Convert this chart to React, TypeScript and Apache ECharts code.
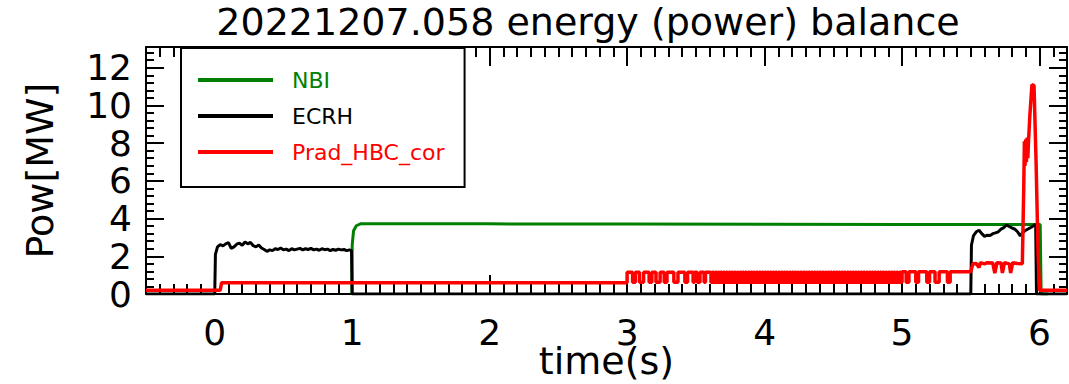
import React, { useEffect, useRef } from "react";
import * as echarts from "echarts";

const FONT = '"DejaVu Sans", "Liberation Sans", sans-serif';

const TITLE = "20221207.058 energy (power) balance";
const X_NAME = "time(s)";
const Y_NAME = "Pow[MW]";
const SERIES_NAMES = ["NBI", "ECRH", "Prad_HBC_cor"];
const SERIES_COLORS = ["#008000", "#000000", "#ff0000"];

const X_MIN = -0.5;
const X_MAX = 6.2;
const Y_MIN = 0;
const Y_MAX = 13.1;

// Labelled (major) tick values
const X_MAJOR_TICKS = [0, 1, 2, 3, 4, 5, 6];
const Y_MAJOR_TICKS = [0, 2, 4, 6, 8, 10, 12];

// NBI power [t, MW]
const NBI = [
  [0.998, 0], [1.0, 2.6], [1.01, 3.35], [1.03, 3.62], [1.06, 3.72],
  [2.0, 3.72], [3.0, 3.71], [4.0, 3.7], [5.0, 3.69], [5.9, 3.68],
  [6.005, 3.68], [6.012, 0], [6.06, 0],
];

// ECRH power [t, MW]
const ECRH = [
  [-0.5, 0], [0.0, 0], [0.005, 2.1], [0.02, 2.5], [0.04, 2.62], [0.06, 2.55],
  [0.08, 2.66], [0.1, 2.72], [0.12, 2.42], [0.14, 2.5], [0.16, 2.64], [0.18, 2.7],
  [0.2, 2.58], [0.22, 2.76], [0.24, 2.66], [0.26, 2.74], [0.28, 2.56], [0.3, 2.5],
  [0.32, 2.6], [0.34, 2.44], [0.36, 2.36], [0.38, 2.26], [0.4, 2.34], [0.42, 2.3],
  [0.44, 2.4], [0.46, 2.36], [0.48, 2.44], [0.5, 2.34], [0.52, 2.38], [0.54, 2.3],
  [0.56, 2.4], [0.58, 2.34], [0.6, 2.38], [0.62, 2.42], [0.64, 2.34], [0.66, 2.4],
  [0.68, 2.36], [0.7, 2.42], [0.72, 2.34], [0.74, 2.38], [0.76, 2.32], [0.78, 2.4],
  [0.8, 2.35], [0.82, 2.38], [0.84, 2.3], [0.86, 2.36], [0.88, 2.32], [0.9, 2.38],
  [0.92, 2.34], [0.94, 2.36], [0.96, 2.3], [0.98, 2.34], [0.995, 2.3], [1.0, 0],
  [5.5, 0], [5.505, 2.6], [5.52, 3.1], [5.54, 3.3], [5.56, 3.38], [5.58, 3.2],
  [5.6, 3.06], [5.62, 3.12], [5.64, 3.1], [5.66, 3.2], [5.68, 3.24], [5.7, 3.3],
  [5.72, 3.44], [5.74, 3.52], [5.76, 3.66], [5.78, 3.58], [5.8, 3.5], [5.82, 3.44],
  [5.84, 3.3], [5.86, 3.08], [5.88, 3.28], [5.9, 3.38], [5.92, 3.46], [5.94, 3.54],
  [5.96, 3.64], [5.972, 3.7], [5.978, 0], [6.2, 0],
];

// Radiated power before the noisy stretch [t, MW]
const PRAD_HEAD = [
  [-0.5, 0.2], [0.04, 0.2], [0.05, 0.6], [1.0, 0.6], [2.0, 0.6], [3.0, 0.6],
];

// Radiated power, digitiser-stepped stretch: one value per 10 ms from 3.00 s
const PRAD_STEP_START = 3.0;
const PRAD_STEP_DT = 0.01;
const PRAD_STEPS = [
  // 3.0 - 3.6
  1.16, 1.16, 1.16, 1.16, 0.62, 0.62, 1.16, 1.16, 1.16, 0.62, 0.62, 0.62, 1.16, 1.16, 1.16, 1.16, 0.62, 0.62, 1.16, 1.16,
  1.16, 0.62, 0.62, 0.62, 1.16, 1.16, 1.16, 0.62, 0.62, 1.16, 1.16, 1.16, 1.16, 1.16, 0.62, 0.62, 0.62, 1.16, 1.16, 1.16,
  1.16, 1.16, 0.62, 0.62, 1.16, 1.16, 1.16, 1.16, 0.62, 1.16, 1.16, 0.62, 0.62, 1.16, 1.16, 1.16, 0.62, 1.16, 1.16, 1.16,
  // 3.6 - 5.0
  1.16, 0.62, 1.16, 0.62, 1.16, 0.62, 1.16, 0.62, 1.16, 0.62, 1.16, 0.62, 1.16, 0.62, 1.16, 0.62, 1.16, 0.62, 1.16, 0.62,
  1.16, 0.62, 1.16, 0.62, 1.16, 0.62, 1.16, 0.62, 1.16, 0.62, 1.16, 0.62, 1.16, 0.62, 1.16, 0.62, 1.16, 0.62, 1.16, 0.62,
  1.16, 0.62, 1.16, 0.62, 1.16, 0.62, 1.16, 0.62, 1.16, 0.62, 1.16, 0.62, 1.16, 0.62, 1.16, 0.62, 1.16, 0.62, 1.16, 0.62,
  1.16, 0.62, 1.16, 0.62, 1.16, 0.62, 1.16, 0.62, 1.16, 0.62, 1.16, 0.62, 1.16, 0.62, 1.16, 0.62, 1.16, 0.62, 1.16, 0.62,
  1.16, 0.62, 1.16, 0.62, 1.16, 0.62, 1.16, 0.62, 1.16, 0.62, 1.16, 0.62, 1.16, 0.62, 1.16, 0.62, 1.16, 0.62, 1.16, 0.62,
  1.16, 0.62, 1.16, 0.62, 1.16, 0.62, 1.16, 0.62, 1.16, 0.62, 1.16, 0.62, 1.16, 0.62, 1.16, 0.62, 1.16, 0.62, 1.16, 0.62,
  1.16, 0.62, 1.16, 0.62, 1.16, 0.62, 1.16, 0.62, 1.16, 0.62, 1.16, 0.62, 1.16, 0.62, 1.16, 0.62, 1.16, 0.62, 1.16, 0.62,
  // 5.0 - 5.5
  1.18, 1.18, 1.18, 0.62, 0.62, 1.18, 1.18, 1.18, 1.18, 1.18, 0.62, 0.62, 1.18, 1.18, 1.18, 1.18, 1.18, 1.18, 0.62, 0.62,
  1.18, 1.18, 1.18, 1.18, 0.62, 0.62, 0.62, 1.18, 1.18, 1.18, 1.18, 1.18, 1.18, 0.62, 0.62, 1.18, 1.18, 1.18, 1.18, 1.18,
  1.18, 1.18, 1.18, 1.18, 1.18, 1.18, 1.18, 1.18, 1.18, 1.18,
];

// Radiated power after the heating step and the final spike [t, MW]
const PRAD_TAIL = [
  [5.5, 1.18], [5.515, 1.6], [5.54, 1.62], [5.56, 1.4], [5.57, 1.66], [5.6, 1.6],
  [5.62, 1.66], [5.66, 1.64], [5.675, 1.1], [5.69, 1.66], [5.72, 1.64], [5.73, 1.12],
  [5.745, 1.66], [5.78, 1.6], [5.79, 1.12], [5.805, 1.66], [5.84, 1.62], [5.875, 1.6],
  [5.885, 5.5], [5.89, 8.1], [5.895, 6.8], [5.9, 8.2], [5.905, 7.0], [5.91, 8.3],
  [5.915, 7.2], [5.92, 8.1], [5.93, 9.5], [5.945, 11.1], [5.96, 11.05], [5.975, 7.0],
  [5.99, 2.0], [6.0, 0.2], [6.2, 0.2],
];

function buildPrad(): number[][] {
  const pts: number[][] = PRAD_HEAD.map((p) => [p[0], p[1]]);
  PRAD_STEPS.forEach((v, i) => {
    const t0 = PRAD_STEP_START + i * PRAD_STEP_DT;
    pts.push([+t0.toFixed(3), v], [+(t0 + PRAD_STEP_DT).toFixed(3), v]);
  });
  PRAD_TAIL.forEach((p) => pts.push([p[0], p[1]]));
  return pts;
}

function minorTicks(min: number, max: number, step: number, majorEvery: number): number[] {
  const out: number[] = [];
  const n0 = Math.ceil(min / step - 1e-9);
  const n1 = Math.floor(max / step + 1e-9);
  for (let i = n0; i <= n1; i++) {
    if (i % majorEvery !== 0) out.push(+(i * step).toFixed(3));
  }
  return out;
}

const X_MINOR_TICKS = minorTicks(X_MIN, X_MAX, 0.1, 10).filter((v) => v > X_MIN && v < X_MAX);
const Y_MINOR_TICKS = minorTicks(Y_MIN, Y_MAX, 0.4, 5).filter((v) => v > Y_MIN && v < Y_MAX);

const GRID = {
  left: 146,
  top: 47,
  right: 2,
  bottom: 90,
  containLabel: false,
  outerBoundsMode: "none",
};

function tickAxis(
  kind: "x" | "y",
  grid: number,
  position: string,
  values: number[],
  length: number,
  withLine: boolean
) {
  const isX = kind === "x";
  return {
    type: "value",
    gridIndex: grid,
    position,
    min: isX ? X_MIN : Y_MIN,
    max: isX ? X_MAX : Y_MAX,
    axisLine: {
      show: withLine,
      onZero: false,
      lineStyle: { color: "#000", width: 2 },
    },
    axisTick: {
      show: true,
      inside: true,
      length,
      customValues: values,
      lineStyle: { color: "#000", width: 2 },
    },
    axisLabel: { show: false },
    splitLine: { show: false },
  };
}

export default function App() {
  const ref = useRef<HTMLDivElement>(null);

  useEffect(() => {
    if (!ref.current) return;
    const chart = echarts.init(ref.current, null, { renderer: "svg" });

    const xBottom: any = tickAxis("x", 0, "bottom", X_MAJOR_TICKS, 19, true);
    xBottom.axisLabel = {
      show: true,
      customValues: X_MAJOR_TICKS,
      color: "#000",
      fontSize: 36,
      fontFamily: FONT,
      lineHeight: 30,
      margin: 23,
      hideOverlap: false,
    };
    xBottom.name = X_NAME;
    xBottom.nameLocation = "middle";
    xBottom.nameGap = 50;
    xBottom.nameMoveOverlap = false;
    xBottom.nameTextStyle = {
      color: "#000",
      fontSize: 38,
      fontFamily: FONT,
      lineHeight: 34,
    };

    const yLeft: any = tickAxis("y", 0, "left", Y_MAJOR_TICKS, 18, true);
    yLeft.axisLabel = {
      show: true,
      customValues: Y_MAJOR_TICKS,
      color: "#000",
      fontSize: 36,
      fontFamily: FONT,
      lineHeight: 30,
      margin: 14,
      hideOverlap: false,
    };
    yLeft.name = Y_NAME;
    yLeft.nameLocation = "middle";
    yLeft.nameGap = 87;
    yLeft.nameMoveOverlap = false;
    yLeft.nameTextStyle = { color: "#000", fontSize: 38, fontFamily: FONT };

    const series = [NBI, ECRH, buildPrad()].map((data, i) => ({
      name: SERIES_NAMES[i],
      type: "line",
      xAxisIndex: 0,
      yAxisIndex: 0,
      data,
      showSymbol: false,
      symbol: "none",
      color: SERIES_COLORS[i],
      lineStyle: { color: SERIES_COLORS[i], width: i === 2 ? 3.5 : 3 },
      z: 2 + i,
    }));

    chart.setOption({
      animation: false,
      backgroundColor: "#fff",
      textStyle: { fontFamily: FONT },
      graphic: [
        {
          type: "text",
          x: 588,
          y: 22,
          style: {
            text: TITLE,
            fill: "#000",
            font: `38px ${FONT}`,
            textAlign: "center",
            textVerticalAlign: "middle",
            align: "center",
            verticalAlign: "middle",
          },
        },
      ],
      grid: [{ ...GRID }, { ...GRID }],
      xAxis: [
        xBottom,
        tickAxis("x", 0, "top", X_MAJOR_TICKS, 19, true),
        tickAxis("x", 1, "bottom", X_MINOR_TICKS, 10, false),
        tickAxis("x", 1, "top", X_MINOR_TICKS, 10, false),
      ],
      yAxis: [
        yLeft,
        tickAxis("y", 0, "right", Y_MAJOR_TICKS, 18, true),
        tickAxis("y", 1, "left", Y_MINOR_TICKS, 8, false),
        tickAxis("y", 1, "right", Y_MINOR_TICKS, 8, false),
      ],
      legend: {
        left: 181,
        top: 48,
        orient: "vertical",
        icon: "rect",
        itemWidth: 75,
        itemHeight: 4,
        itemGap: 10,
        padding: [19, 20, 22, 17],
        borderColor: "#000",
        borderWidth: 2,
        backgroundColor: "#fff",
        selectedMode: false,
        textStyle: {
          fontSize: 22,
          fontFamily: FONT,
          lineHeight: 26,
          padding: [0, 0, 0, 14],
        },
        data: SERIES_NAMES.map((name, i) => ({
          name,
          textStyle: { color: SERIES_COLORS[i] },
        })),
      },
      series,
    });

    return () => chart.dispose();
  }, []);

  return (
    <div
      ref={ref}
      style={{ position: "fixed", left: 0, top: 0, width: 1069, height: 384 }}
    />
  );
}
